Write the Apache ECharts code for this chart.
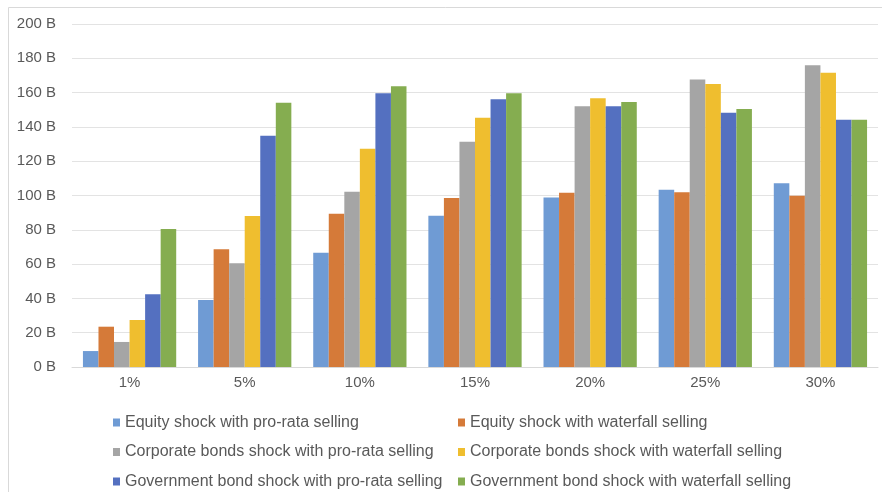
<!DOCTYPE html>
<html><head><meta charset="utf-8">
<script src="https://cdn.jsdelivr.net/npm/echarts@6/dist/echarts.min.js"></script>
<style>html,body{margin:0;padding:0;background:#fff}#c{width:882px;height:492px}</style>
</head><body><div id="c"></div>
<script>
const categories = ['1%', '5%', '10%', '15%', '20%', '25%', '30%'];
const seriesNames = [
  'Equity shock with pro-rata selling',
  'Equity shock with waterfall selling',
  'Corporate bonds shock with pro-rata selling',
  'Corporate bonds shock with waterfall selling',
  'Government bond shock with pro-rata selling',
  'Government bond shock with waterfall selling'
];
const equityProRata = [9.3, 39, 66.6, 88.2, 98.9, 103.4, 107.1];
const equityWaterfall = [23.5, 68.6, 89.4, 98.5, 101.6, 101.9, 99.9];
const corpProRata = [14.6, 60.5, 102.2, 131.4, 152, 167.7, 175.9];
const corpWaterfall = [27.4, 88, 127.3, 145.4, 156.7, 165, 171.6];
const govProRata = [42.4, 134.9, 159.6, 156.1, 152, 148.3, 144.2];
const govWaterfall = [80.5, 154.1, 163.7, 159.6, 154.5, 150.4, 144.2];
const yTicks = { min: 0, max: 200, interval: 20 };
const colors = ['#6F9BD4', '#D57A39', '#A5A5A5', '#EFBE2F', '#5470C0', '#85AD50'];

const values = [equityProRata, equityWaterfall, corpProRata, corpWaterfall, govProRata, govWaterfall];
const font = 'Liberation Sans';
const chart = echarts.init(document.getElementById('c'));
const legendCommon = {
  orient: 'vertical', top: 413, height: 100, padding: 0, itemWidth: 7, itemHeight: 8, itemGap: 10.5,
  icon: 'rect', selectedMode: false,
  textStyle: { fontFamily: font, fontSize: 16, color: '#595959', lineHeight: 18, padding: [1, 0, 0, 0] }
};
chart.setOption({
  animation: false,
  color: colors,
  graphic: [{ type: 'rect', shape: { x: 8.5, y: 7.5, width: 880, height: 490 }, style: { fill: 'none', stroke: '#d9d9d9', lineWidth: 1 }, silent: true }],
  grid: { left: 72, right: 4, top: 24, bottom: 125, containLabel: false },
  legend: [
    Object.assign({ left: 113, data: [seriesNames[0], seriesNames[2], seriesNames[4]] }, legendCommon),
    Object.assign({ left: 458, data: [seriesNames[1], seriesNames[3], seriesNames[5]] }, legendCommon)
  ],
  xAxis: {
    type: 'category', data: categories,
    axisLine: { lineStyle: { color: '#d9d9d9' } },
    axisTick: { show: false },
    axisLabel: { fontFamily: font, fontSize: 15, color: '#595959', margin: 8 }
  },
  yAxis: {
    type: 'value', min: yTicks.min, max: yTicks.max, interval: yTicks.interval,
    axisLine: { show: false }, axisTick: { show: false },
    splitLine: { lineStyle: { color: '#e3e3e3' } },
    axisLabel: { fontFamily: font, fontSize: 15, color: '#595959', margin: 16, formatter: v => v + ' B' }
  },
  series: seriesNames.map((n, i) => ({
    name: n, type: 'bar', data: values[i], barGap: '0%', barCategoryGap: '19%',
    itemStyle: { color: colors[i] }
  }))
});
</script></body></html>
